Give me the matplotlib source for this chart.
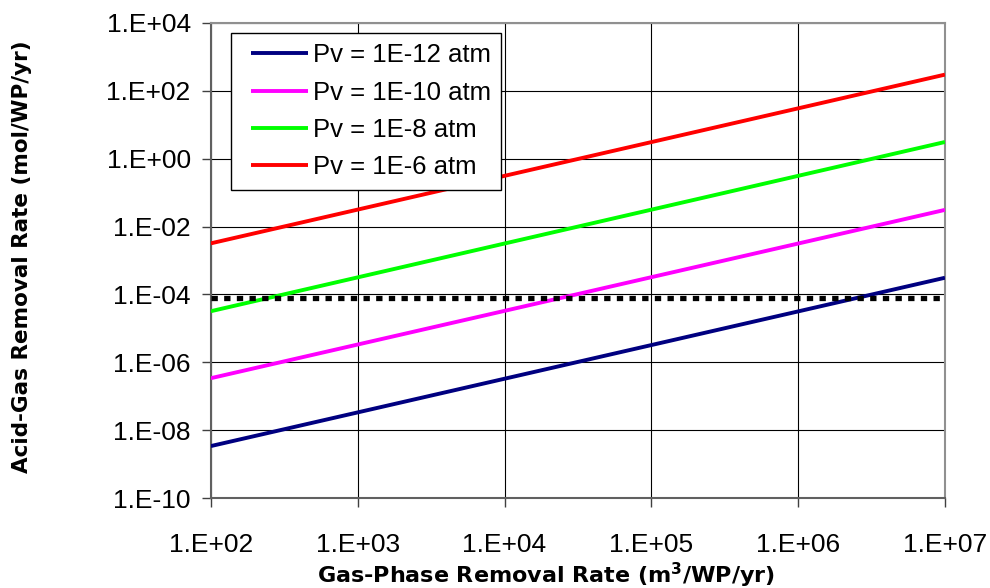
import matplotlib
matplotlib.use("Agg")
import matplotlib.pyplot as plt
from matplotlib.ticker import FixedLocator, NullLocator
from matplotlib.legend_handler import HandlerLine2D

plt.rcParams['font.family'] = ['Liberation Sans', 'DejaVu Sans']
plt.rcParams['mathtext.fontset'] = 'dejavusans'

# gas-phase removal rate range (m3/WP/yr)
flow = [1e2, 1e7]

# acid-gas removal rate at each end of the flow range, one series per vapour pressure
series_labels = ["Pv = 1E-12 atm", "Pv = 1E-10 atm", "Pv = 1E-8 atm", "Pv = 1E-6 atm"]
series_values = [
    [3.4e-9, 3.1e-4],
    [3.4e-7, 3.1e-2],
    [3.2e-5, 3.1e0],
    [3.2e-3, 3.0e2],
]
series_colors = ["#000080", "#FF00FF", "#00FF00", "#FF0000"]

# horizontal reference level (mol/WP/yr)
threshold = [8e-5, 8e-5]

x_ticks = [1e2, 1e3, 1e4, 1e5, 1e6, 1e7]
x_ticklabels = ["1.E+02", "1.E+03", "1.E+04", "1.E+05", "1.E+06", "1.E+07"]
y_ticks = [1e-10, 1e-8, 1e-6, 1e-4, 1e-2, 1e0, 1e2, 1e4]
y_ticklabels = ["1.E-10", "1.E-08", "1.E-06", "1.E-04", "1.E-02", "1.E+00", "1.E+02", "1.E+04"]

fig = plt.figure(figsize=(9.9, 5.88), dpi=100)
ax = fig.add_axes([0.213, 0.153, 0.7415, 0.808])

for vals, lab, col in zip(series_values, series_labels, series_colors):
    ax.plot(flow, vals, color=col, lw=2.8, label=lab, solid_capstyle="butt", zorder=3)

ax.plot(flow, threshold, color="black", lw=3.8, dashes=(1.2, 1.2),
        dash_capstyle="butt", zorder=4)

ax.set_xscale("log")
ax.set_yscale("log")
ax.set_xlim(1e2, 1e7)
ax.set_ylim(1e-10, 1e4)

ax.xaxis.set_major_locator(FixedLocator(x_ticks))
ax.yaxis.set_major_locator(FixedLocator(y_ticks))
ax.xaxis.set_minor_locator(NullLocator())
ax.yaxis.set_minor_locator(NullLocator())
ax.set_xticklabels(x_ticklabels)
ax.set_yticklabels(y_ticklabels)

ax.tick_params(axis="both", which="major", labelsize=19, length=6.5, width=1,
               color="#404040", direction="out")
ax.tick_params(axis="x", pad=19)
ax.tick_params(axis="y", pad=8)

ax.grid(True, which="major", color="black", lw=0.8)

for side in ["left", "bottom"]:
    ax.spines[side].set_color("#606060")
    ax.spines[side].set_linewidth(1.5)
for side in ["top", "right"]:
    ax.spines[side].set_color("#909090")
    ax.spines[side].set_linewidth(1.5)

ax.set_xlabel(r"Gas-Phase Removal Rate (m$^\mathbf{3}$/WP/yr)", fontsize=16,
              fontweight="bold", family="DejaVu Sans")
ax.xaxis.label.set_va("baseline")
ax.xaxis.set_label_coords(0.456, -0.179)

ax.set_ylabel("Acid-Gas Removal Rate (mol/WP/yr)", fontsize=15.5,
              fontweight="bold", family="DejaVu Sans")
ax.yaxis.set_label_coords(-0.243, 0.509)

leg = ax.legend(loc="upper left", bbox_to_anchor=(0.0272, 0.979), fontsize=18.5,
                frameon=True, fancybox=False, framealpha=1, edgecolor="black",
                handlelength=2.6, handletextpad=0.2, labelspacing=0.52,
                borderpad=0.4, borderaxespad=0,
                handler_map={plt.Line2D: HandlerLine2D(xpad=0.4)})
leg.get_frame().set_linewidth(1.0)

fig.savefig("out.png", dpi=100)
